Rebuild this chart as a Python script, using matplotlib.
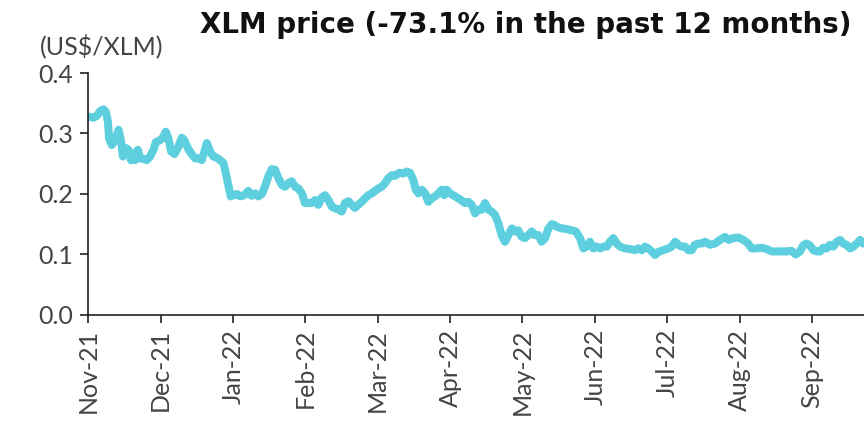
import matplotlib.pyplot as plt

# day offset from 1 Nov 2021 and XLM price (US$)
days = [0.1, 2.2, 3.6, 5.0, 6.3, 7.3, 8.2, 8.7, 9.8, 11.2, 12.6, 13.7, 14.4, 15.6, 16.7,
        17.8, 18.8, 19.5, 20.6, 21.5, 22.9, 24.3, 25.7, 27.1, 28.1, 29.4, 30.8, 32.2,
        33.3, 34.4, 35.8, 37.2, 38.8, 39.9, 41.3, 42.7, 44.3, 45.7, 47.1, 48.2, 49.2,
        50.6, 51.9, 53.3, 54.7, 56.1, 57.1, 58.1, 59.1, 60.2, 61.6, 63.0, 64.8,
        66.4, 67.8, 69.2, 70.6, 72.0, 73.3, 74.7, 76.1, 77.5, 78.9, 80.3, 81.6, 83.0,
        84.4, 85.8, 87.2, 88.6, 89.9, 91.3, 92.7, 94.1, 95.4, 96.8, 98.2, 99.6, 101.0,
        102.4, 103.7, 105.1, 106.5, 107.9, 109.3, 110.6, 112.0, 113.4, 114.8, 116.2,
        117.6, 118.9, 120.3, 121.7, 123.1, 124.4, 125.9, 127.2, 129.0,
        130.7, 132.1, 133.4, 134.8, 135.8, 136.9, 138.3, 139.7, 141.0, 142.4, 143.8,
        145.2, 146.6, 147.6, 148.6, 150.0, 152.1, 154.2, 156.2, 157.6, 159.0, 160.4,
        161.7, 163.1, 164.5, 165.9, 167.3, 168.7, 170.0, 171.4, 172.8, 174.2, 175.6,
        176.9, 178.3, 179.7, 181.1, 182.5, 183.9, 185.2, 186.6, 188.0, 189.4, 190.8,
        192.2, 193.2, 194.2, 196.3, 198.4, 200.4, 202.2, 203.9, 205.3, 206.7, 208.0,
        209.4, 210.8, 212.2, 213.6, 215.0, 216.3, 217.7, 219.1, 220.5, 222.5, 224.6,
        226.7, 228.0, 229.5, 230.8, 232.2, 233.6, 235.0, 236.3, 238.4, 240.5, 241.9,
        243.3, 244.6, 246.0, 247.4, 248.8, 250.2, 251.5, 252.9, 254.3, 255.7,
        257.7, 259.8, 261.9, 264.0, 265.6, 267.4, 269.5, 271.6, 273.6, 275.0, 277.1,
        279.2, 281.2, 283.3, 285.4, 287.5, 289.5, 291.6, 293.3, 295.1, 296.4, 297.8,
        299.2, 300.6, 302.0, 303.4, 304.7, 306.1, 307.5, 308.9, 310.3, 311.7, 313.0,
        314.4, 315.8, 317.2, 318.6, 320.0, 321.3]
price = [0.328, 0.326, 0.329, 0.337, 0.340, 0.336, 0.320, 0.292, 0.281, 0.289, 0.306,
         0.286, 0.262, 0.276, 0.273, 0.256, 0.267, 0.256, 0.273, 0.259, 0.258, 0.256,
         0.262, 0.273, 0.286, 0.288, 0.292, 0.303, 0.292, 0.270, 0.266, 0.276, 0.293,
         0.289, 0.276, 0.267, 0.259, 0.259, 0.256, 0.270, 0.284, 0.270, 0.262, 0.260,
         0.256, 0.251, 0.234, 0.215, 0.196, 0.198, 0.200, 0.196, 0.198,
         0.205, 0.197, 0.201, 0.196, 0.200, 0.212, 0.229, 0.241, 0.240, 0.226, 0.215,
         0.212, 0.218, 0.221, 0.212, 0.209, 0.201, 0.185, 0.185, 0.185, 0.190, 0.182,
         0.194, 0.198, 0.190, 0.179, 0.176, 0.175, 0.171, 0.185, 0.188, 0.182, 0.177,
         0.182, 0.187, 0.193, 0.198, 0.201, 0.205, 0.209, 0.212, 0.218, 0.226, 0.231,
         0.230, 0.235,
         0.234, 0.237, 0.235, 0.223, 0.207, 0.201, 0.207, 0.201, 0.187, 0.193, 0.196,
         0.201, 0.207, 0.198, 0.207, 0.201, 0.196, 0.191, 0.185, 0.187, 0.182, 0.168,
         0.174, 0.174, 0.185, 0.174, 0.171, 0.165, 0.152, 0.132, 0.121, 0.132, 0.143,
         0.138, 0.140, 0.129, 0.127, 0.132, 0.138, 0.132, 0.132, 0.121, 0.127, 0.143,
         0.150, 0.149, 0.146, 0.143, 0.142, 0.140, 0.138, 0.127, 0.110, 0.113, 0.121,
         0.110, 0.113, 0.110, 0.113, 0.113, 0.121, 0.127, 0.118, 0.113, 0.110, 0.109,
         0.107, 0.110, 0.107, 0.113, 0.110, 0.105, 0.099, 0.104, 0.107, 0.110, 0.113,
         0.121, 0.116, 0.113, 0.113, 0.107, 0.107, 0.116, 0.118, 0.118, 0.121,
         0.116, 0.118, 0.124, 0.129, 0.124, 0.127, 0.128, 0.124, 0.118, 0.110, 0.110,
         0.111, 0.109, 0.105, 0.105, 0.105, 0.105, 0.106, 0.100, 0.105, 0.115, 0.118,
         0.115, 0.107, 0.105, 0.105, 0.111, 0.110, 0.116, 0.113, 0.121, 0.124, 0.118,
         0.116, 0.110, 0.113, 0.118, 0.124, 0.118]

month_labels = ['Nov-21', 'Dec-21', 'Jan-22', 'Feb-22', 'Mar-22', 'Apr-22',
                'May-22', 'Jun-22', 'Jul-22', 'Aug-22', 'Sep-22']
month_days = [0, 30, 60, 90, 120, 150, 180, 210, 240, 270, 300]
y_ticks = [0.0, 0.1, 0.2, 0.3, 0.4]

plt.rcParams['font.family'] = ['Lato', 'DejaVu Sans']

fig = plt.figure(figsize=(8.64, 4.32), dpi=100)
ax = fig.add_axes([0.102, 0.271, 0.898, 0.560])

ax.plot(days, price, color='#5DCFDF', linewidth=5.8, solid_capstyle='round',
        solid_joinstyle='round')

ax.set_xlim(0, 321.6)
ax.set_ylim(0, 0.4)
ax.set_xticks(month_days)
ax.set_xticklabels(month_labels, rotation=90)
ax.set_yticks(y_ticks)
ax.set_yticklabels(['%.1f' % v for v in y_ticks])

for side in ['top', 'right']:
    ax.spines[side].set_visible(False)
for side in ['left', 'bottom']:
    ax.spines[side].set_linewidth(1.2)
    ax.spines[side].set_color('#222222')
ax.tick_params(axis='both', length=6, width=1.2, color='#222222',
               labelsize=18, labelcolor='#444444')
ax.tick_params(axis='x', pad=4)
ax.tick_params(axis='y', pad=5)

fig.text(0.231, 0.942, 'XLM price (-73.1% in the past 12 months)', fontsize=20,
         fontweight='bold', color='#111111', ha='left', va='center',
         family='DejaVu Sans')
fig.text(0.046, 0.893, '(US$/XLM)', fontsize=18, color='#444444',
         ha='left', va='center')

fig.savefig('out.png', dpi=100)
